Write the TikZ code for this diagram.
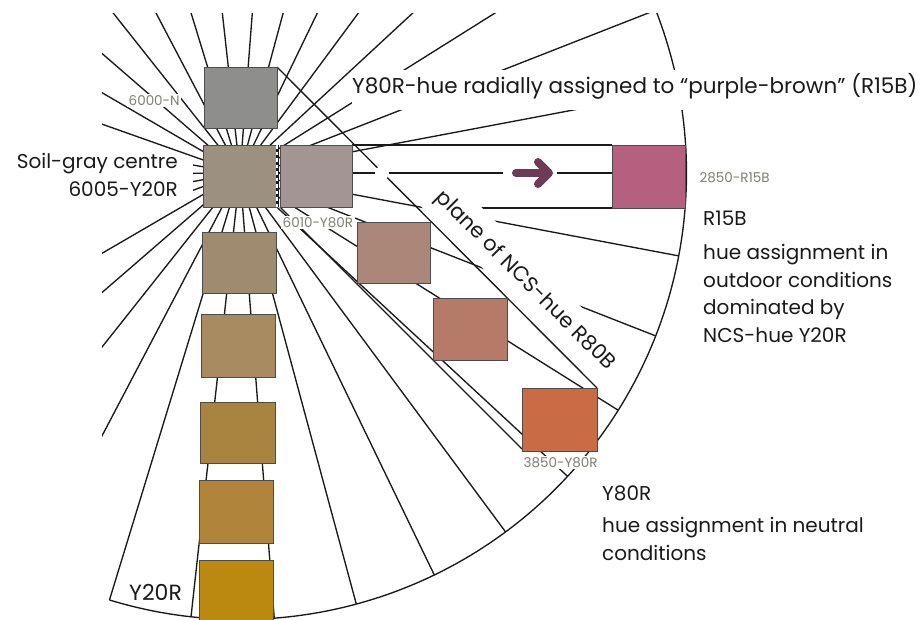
\documentclass[tikz,border=0pt]{standalone}
\usepackage{fontspec}
\setmainfont{Poppins}
\definecolor{cN}{HTML}{8E8E8C}
\definecolor{cC}{HTML}{9C9081}
\definecolor{cA}{HTML}{A39593}
\definecolor{cB}{HTML}{AA8778}
\definecolor{cD}{HTML}{B67B68}
\definecolor{cE}{HTML}{C96B45}
\definecolor{cP}{HTML}{B6607F}
\definecolor{cYa}{HTML}{9F8C70}
\definecolor{cYb}{HTML}{A88B60}
\definecolor{cYc}{HTML}{A98340}
\definecolor{cYd}{HTML}{B0843A}
\definecolor{cYe}{HTML}{BB8810}
\definecolor{arrowc}{HTML}{6D3A58}
\definecolor{lblgray}{HTML}{7F7F74}
\definecolor{ink}{HTML}{1A1A1A}
\begin{document}
\begin{tikzpicture}[x=1pt,y=-1pt,
  ray/.style={line width=1.35pt, draw=ink},
  edge/.style={line width=1.35pt, draw=ink},
  sq/.style={draw=black!70, line width=0.9pt, inner sep=0pt, outer sep=0pt},
  lbl/.style={font=\fontsize{20}{24}\selectfont, text=ink, inner sep=0pt, anchor=base west},
  small/.style={font=\fontsize{13.5}{16}\selectfont, text=lblgray, inner sep=1.5pt, anchor=base west, fill=white},
]
\useasboundingbox (0,0) rectangle (924,619);
\clip (0,0) rectangle (924,619);
\coordinate (C) at (240,173);

% rays of the hue circle
\begin{scope}
  \clip (102,13) rectangle (924,619);
  \clip (240,173) circle[radius=446.5pt];
  \foreach \k in {-15,...,14} \draw[ray] (C) -- ++({\k*10.7}:700);
\end{scope}
\begin{scope}
  \clip (193,0) rectangle (924,619);
  \foreach \a in {-170.4,179.6,169.7,159.8} \draw[ray] (C) -- ++(\a:100);
\end{scope}

% outer arc
\draw[edge] plot[domain=-21:107, samples=150, variable=\t] ({240+446.5*cos(\t)},{173+446.5*sin(\t)});

% band and plane edges
\draw[edge] (352,145) -- (612,145);
\draw[edge] (440,208) -- (612,208);
\draw[edge] (277,67) -- (597,388);
\draw[edge] (280,207) -- (522,449);

% white masks behind texts
\fill[white] (352,70) rectangle (924,110);
\fill[white] (419.9,205.2) -- (610.8,396.1) -- (640.5,366.4) -- (449.6,175.5) -- cycle;
\fill[white] (382,173) circle[radius=7pt];
\fill[white] (503,160) rectangle (557,186);

% colour samples
\node[sq, fill=cN, minimum width=73pt, minimum height=61pt] (sqN) at (240.5,97.5) {};
\node[sq, fill=cC, minimum width=74pt, minimum height=62pt] (sqC) at (240,176) {};
\node[sq, fill=cA, minimum width=72pt, minimum height=62pt] (sqA) at (316,176) {};
\node[sq, fill=cB, minimum width=73pt, minimum height=61pt] (sqB) at (393.5,252.5) {};
\node[sq, fill=cD, minimum width=74pt, minimum height=62pt] (sqD) at (470,329) {};
\node[sq, fill=cE, minimum width=75pt, minimum height=63pt] (sqE) at (559.5,419.5) {};
\node[sq, fill=cP, minimum width=73pt, minimum height=63pt] (sqP) at (648.5,176.5) {};
\node[sq, fill=cYa, minimum width=74pt, minimum height=61pt] (col1) at (239,262.5) {};
\node[sq, fill=cYb, minimum width=74pt, minimum height=63pt] (col2) at (238,345.5) {};
\node[sq, fill=cYc, minimum width=75pt, minimum height=61pt] (col3) at (237.5,432.5) {};
\node[sq, fill=cYd, minimum width=74pt, minimum height=63pt] (col4) at (236,511.5) {};
\node[sq, fill=cYe, minimum width=74pt, minimum height=70pt] (col5) at (236,595) {};

% dashed divider
\draw[ink, line width=3pt] (sqC.north east) -- (sqC.south east);
\draw[white, line width=1.2pt, dash pattern=on 3.5pt off 3pt] (sqC.north east) -- (sqC.south east);

% arrow
\draw[arrowc, line width=8pt, line cap=round] (516,173) -- (546,173);
\draw[arrowc, line width=8pt, line cap=round, line join=round] (538,162) -- (549,173) -- (538,184);

% texts
\node[lbl, font=\fontsize{21.5}{24}\selectfont] (title) at (352,93) {Y80R-hue radially assigned to “purple-brown” (R15B)};
\node[lbl, anchor=base east] (soilA) at (178,168) {Soil-gray centre};
\node[lbl, anchor=base east] (soilB) at (178,196) {6005-Y20R};
\node[lbl, font=\fontsize{21}{24}\selectfont, rotate=-45, anchor=center] (plane) at (525,281) {plane of NCS-hue R80B};
\node[lbl] (rA) at (703,225) {R15B};
\node[lbl] (rB) at (703,259) {hue assignment in};
\node[lbl] (rC) at (703,287) {outdoor conditions};
\node[lbl] (rD) at (703,314) {dominated by};
\node[lbl] (rE) at (703,342) {NCS-hue Y20R};
\node[lbl] (yA) at (602,500) {Y80R};
\node[lbl] (yB) at (602,532) {hue assignment in neutral};
\node[lbl] (yC) at (602,560) {conditions};
\node[lbl, font=\fontsize{22}{24}\selectfont] (y20) at (129,600) {Y20R};
\node[small] (lN) at (127,105) {6000-N};
\node[small] (lA) at (281,227) {6010-Y80R};
\node[small] (lP) at (698,182) {2850-R15B};
\node[small] (lE) at (522,467) {3850-Y80R};
\end{tikzpicture}
\end{document}
